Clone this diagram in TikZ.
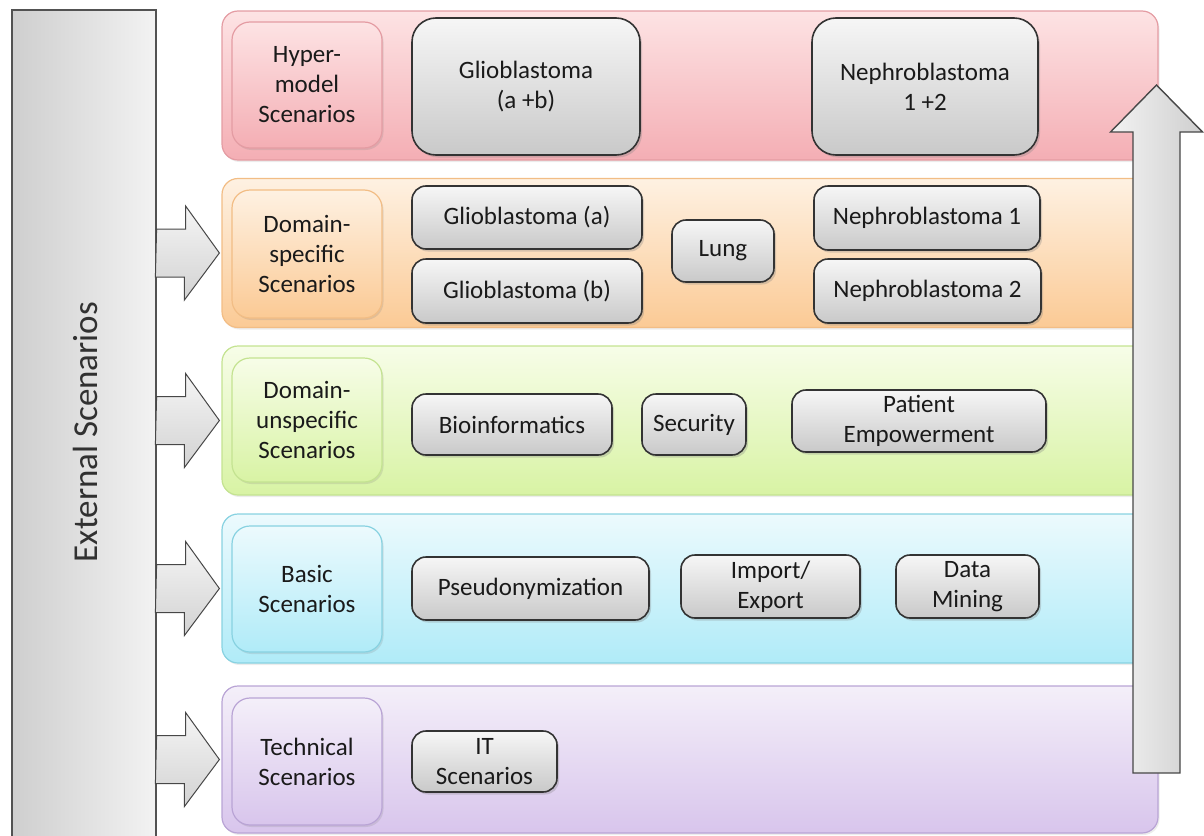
\documentclass[tikz,border=0pt]{standalone}
\usepackage{fontspec}
\setmainfont{Carlito}
\usetikzlibrary{shadows,calc}

\definecolor{txt}{HTML}{1A1A1A}
\definecolor{redtop}{HTML}{FDE3E4}
\definecolor{redbot}{HTML}{F4AEB4}
\definecolor{redline}{HTML}{E49CA3}
\definecolor{orangetop}{HTML}{FEF1E2}
\definecolor{orangebot}{HTML}{FBCA95}
\definecolor{orangeline}{HTML}{F2BD85}
\definecolor{greentop}{HTML}{F7FDE8}
\definecolor{greenbot}{HTML}{D8F3A4}
\definecolor{greenline}{HTML}{C4E391}
\definecolor{bluetop}{HTML}{ECFAFD}
\definecolor{bluebot}{HTML}{B0EBF8}
\definecolor{blueline}{HTML}{88D2E1}
\definecolor{purpletop}{HTML}{F4EFF9}
\definecolor{purplebot}{HTML}{D8C5EC}
\definecolor{purpleline}{HTML}{B9A4D5}
\definecolor{itemtop}{HTML}{F6F6F6}
\definecolor{itembot}{HTML}{C9C9C9}
\definecolor{itemline}{HTML}{333333}

\tikzset{
  band/.style={draw=#1line, top color=#1top, bottom color=#1bot, line width=1.2pt,
    rounded corners=16pt, minimum width=936pt, minimum height=149pt,
    drop shadow={shadow xshift=1.5pt, shadow yshift=-2pt, opacity=0.15}},
  lbl/.style={draw=#1line, top color=#1top, bottom color=#1bot, line width=1.2pt,
    rounded corners=18pt, minimum width=150pt, minimum height=126pt, align=center,
    drop shadow={shadow xshift=1.5pt, shadow yshift=-2pt, opacity=0.2}},
  item/.style={draw=itemline, top color=itemtop, bottom color=itembot, line width=1.6pt,
    rounded corners=14pt, align=center, inner sep=0pt,
    drop shadow={shadow xshift=2pt, shadow yshift=-2.5pt, opacity=0.3}},
  blockarrow/.style={draw=itemline!90, line width=1pt, top color=gray!8, bottom color=gray!35},
}

\begin{document}
\begin{tikzpicture}[x=1pt, y=-1pt, font=\fontsize{25}{30}\selectfont, text=txt]
  \useasboundingbox (0,0) rectangle (1204,835);

  % external scenarios bar
  \node[draw=itemline!85, line width=1.2pt, left color=gray!38, right color=gray!10,
        minimum width=144pt, minimum height=840pt] (ext) at (84,430) {};
  \node[rotate=90, font=\fontsize{35}{40}\selectfont, text=txt!90] (exttxt) at (85,432) {External Scenarios};

  % bands
  \node[band=red]    (hyper)     at (690,85.5)  {};
  \node[band=orange] (domspec)   at (690,253)   {};
  \node[band=green]  (domunspec) at (690,420.5) {};
  \node[band=blue]   (basic)     at (690,588.5) {};
  \node[band=purple, minimum height=147pt] (tech) at (690,759.5) {};

  % band labels
  \node[lbl=red]    (hyperlbl)     at (307,85)    {Hyper-\\model\\Scenarios};
  \node[lbl=orange, minimum height=128pt] (domspeclbl) at (307,254) {Domain-\\specific\\Scenarios};
  \node[lbl=green, minimum height=124pt]  (domunspeclbl) at (307,420) {Domain-\\unspecific\\Scenarios};
  \node[lbl=blue]   (basiclbl)     at (307,589)   {Basic\\Scenarios};
  \node[lbl=purple, minimum height=127pt] (techlbl) at (307,761.5) {Technical\\Scenarios};

  % hyper-model scenarios
  \node[item, rounded corners=24pt, minimum width=228pt, minimum height=137pt] (glioab) at (526,86.5) {Glioblastoma\\(a +b)};
  \node[item, rounded corners=24pt, minimum width=226pt, minimum height=137pt] (neph12) at (925,86.5) {Nephroblastoma\\1 +2};

  % domain-specific scenarios
  \node[item, minimum width=230pt, minimum height=63pt] (glioa) at (527,217.5) {Glioblastoma (a)};
  \node[item, minimum width=230pt, minimum height=64pt] (gliob) at (527,291)   {Glioblastoma (b)};
  \node[item, minimum width=102pt, minimum height=62pt] (lung)  at (723,251)   {Lung};
  \node[item, minimum width=226pt, minimum height=64pt] (neph1) at (927,218)   {Nephroblastoma 1};
  \node[item, minimum width=227pt, minimum height=64pt] (neph2) at (927.5,291) {Nephroblastoma 2};

  % domain-unspecific scenarios
  \node[item, minimum width=200pt, minimum height=61pt] (bioinf)  at (512,424.5) {Bioinformatics};
  \node[item, minimum width=104pt, minimum height=61pt] (secur)   at (694,424.5) {Security};
  \node[item, minimum width=254pt, minimum height=62pt] (patient) at (919,421)   {Patient\\Empowerment};

  % basic scenarios
  \node[item, minimum width=237pt, minimum height=63pt] (pseudo) at (530.5,588.5) {Pseudonymization};
  \node[item, minimum width=179pt, minimum height=63pt] (impexp) at (770.5,586.5) {Import/\\Export};
  \node[item, minimum width=143pt, minimum height=63pt] (mining) at (967.5,586.5) {Data\\Mining};

  % technical scenarios
  \node[item, minimum width=145pt, minimum height=61pt] (itscen) at (484.5,761.5) {IT\\Scenarios};

  % arrows from the external bar
  \foreach \b in {domspec,domunspec,basic,tech}
    \draw[blockarrow] (ext.east |- \b.west) ++(0,-24) -- ++(29,0) -- ++(0,-23)
      -- ($(\b.west)+(-2,0)$) -- ++(-35,47) -- ++(0,-23) -- ++(-29,0) -- cycle;

  % upward arrow
  \coordinate (uptail) at (1156.5,773);
  \coordinate (uptip)  at (1156.5,85);
  \draw[draw=itemline!90, line width=1.4pt, left color=gray!10, right color=gray!38]
    ($(uptail)+(-23.5,0)$) -- ($(uptip)+(-23.5,47)$) -- ($(uptip)+(-46,47)$) -- (uptip)
    -- ($(uptip)+(46,47)$) -- ($(uptip)+(23.5,47)$) -- ($(uptail)+(23.5,0)$) -- cycle;
\end{tikzpicture}
\end{document}
